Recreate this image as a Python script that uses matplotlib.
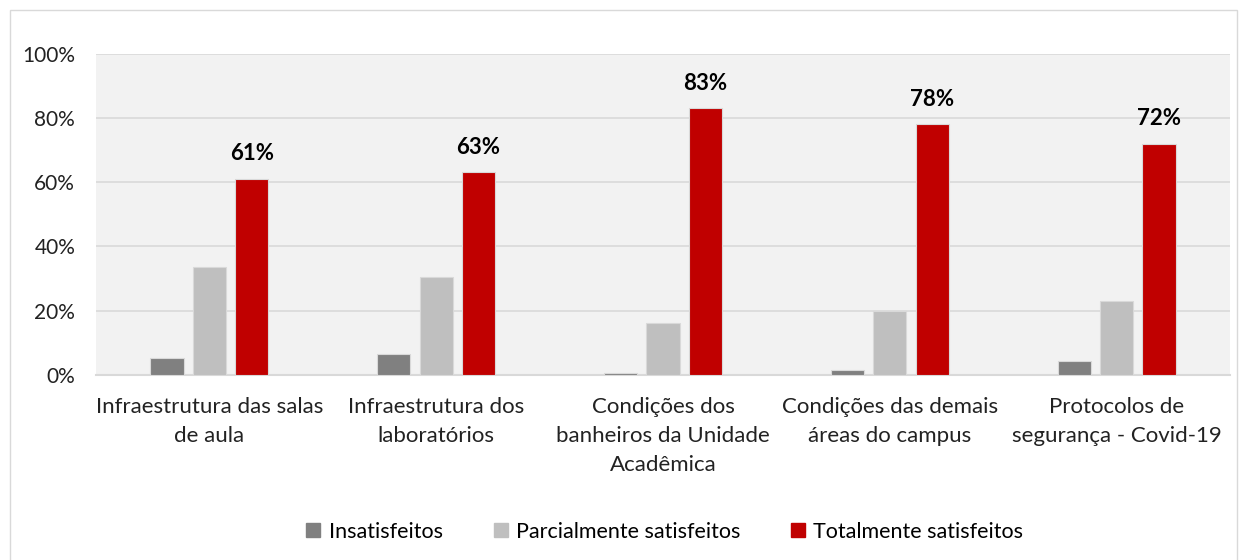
import matplotlib.pyplot as plt
from matplotlib.patches import Rectangle
import numpy as np

plt.rcParams['font.family'] = ['Lato', 'DejaVu Sans']

# dados
categorias = ['Infraestrutura das salas\nde aula', 'Infraestrutura dos\nlaboratórios',
              'Condições dos\nbanheiros da Unidade\nAcadêmica', 'Condições das demais\náreas do campus',
              'Protocolos de\nsegurança - Covid-19']
insatisfeitos = [5.2, 6.4, 0.6, 1.4, 4.3]
parcialmente = [33.6, 30.6, 16.1, 20.0, 22.9]
totalmente = [61, 63, 83, 78, 72]
series = ['Insatisfeitos', 'Parcialmente satisfeitos', 'Totalmente satisfeitos']
cores = ['#808080', '#bfbfbf', '#c00000']

fig = plt.figure(figsize=(12.47, 5.6), dpi=100)
# borda do gráfico
fig.patches.append(Rectangle((10 / 1247, -0.1), 1227 / 1247, 1.1 - 10 / 560, transform=fig.transFigure,
                             fill=False, edgecolor='#d9d9d9', linewidth=1))
ax = fig.add_axes([96 / 1247, 1 - 375 / 560, 1134 / 1247, 321.5 / 560])
ax.set_facecolor('#f2f2f2')

x = np.arange(len(categorias))
passo = 0.187
largura = 0.146
for k, valores in enumerate([insatisfeitos, parcialmente, totalmente]):
    ax.bar(x + (k - 1) * passo, valores, largura, color=cores[k], edgecolor='#d9d9d9',
           linewidth=0.8, label=series[k], zorder=3)

for xi, v in zip(x, totalmente):
    ax.text(xi + passo, v + 4.5, f'{v}%', ha='center', va='bottom', fontsize=16,
            fontweight='bold', color='black')

ax.set_xlim(-0.5, 4.5)
ax.set_ylim(0, 100)
ax.set_yticks(range(0, 101, 20))
ax.set_yticklabels([f'{t}%' for t in range(0, 101, 20)], fontsize=15, color='#222222')
ax.set_xticks(x)
ax.set_xticklabels(categorias, fontsize=16, color='#222222', linespacing=1.55)
ax.tick_params(length=0)
ax.tick_params(axis='x', pad=16)
ax.tick_params(axis='y', pad=15)
ax.grid(axis='y', color='#d9d9d9', linewidth=1.2, zorder=0)
for s in ['top', 'right', 'left']:
    ax.spines[s].set_visible(False)
ax.spines['bottom'].set_color('#d9d9d9')
ax.spines['bottom'].set_linewidth(1.5)

handles = [plt.Line2D([], [], marker='s', linestyle='', markersize=10, color=c) for c in cores]
fig.legend(handles, series, loc='center', bbox_to_anchor=(663 / 1247, 1 - 532 / 560), ncol=3,
           frameon=False, fontsize=15.5, handlelength=1.0, handletextpad=0.2, columnspacing=2.2)

fig.savefig('out.png', dpi=100, facecolor='white')
